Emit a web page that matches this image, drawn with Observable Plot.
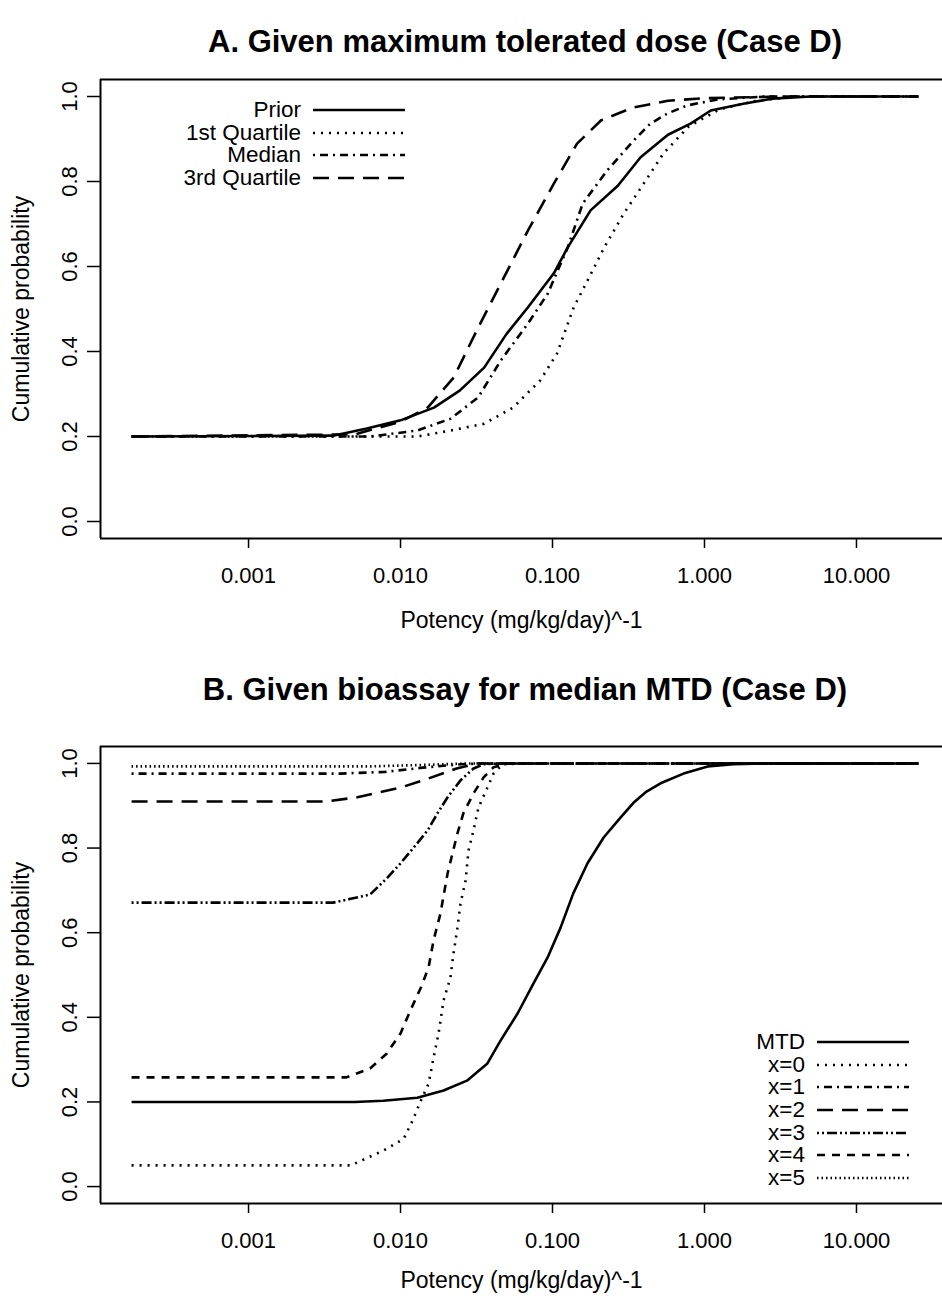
<!DOCTYPE html>
<html>
<head>
<meta charset="utf-8">
<script src="https://cdn.jsdelivr.net/npm/d3@7"></script>
<script src="https://cdn.jsdelivr.net/npm/@observablehq/plot@0.6"></script>
<style>
  body { margin: 0; background: #fff; overflow: hidden; font-family: "Liberation Sans", Arial, sans-serif; color: #000; }
  #page { position: relative; width: 942px; height: 1299px; background: #fff; }
  .title { position: absolute; left: 104px; width: 842px; text-align: center; font-weight: bold; font-size: 31px; line-height: 36px; }
  .panel { position: absolute; left: 0; }
  .legend { position: absolute; font-size: 22.5px; }
  .legend .row { display: flex; align-items: center; height: 22.6px; }
  .legend .lab { text-align: right; }
  .legend svg { display: block; }
</style>
</head>
<body>
<div id="page">
  <div class="title" id="titleA" style="top:24px">A. Given maximum tolerated dose (Case D)</div>
  <div class="panel" id="panelA" style="top:60px"></div>
  <div class="legend" id="legendA" style="left:120px; top:99px"></div>
  <div class="title" id="titleB" style="top:672px">B. Given bioassay for median MTD (Case D)</div>
  <div class="panel" id="panelB" style="top:728px"></div>
  <div class="legend" id="legendB" style="left:700px; top:1031px"></div>
</div>
<script>
// ---------- data ----------
const xTicks = [0.001, 0.01, 0.1, 1, 10];
const yTicks = [0, 0.2, 0.4, 0.6, 0.8, 1.0];
const xLabel = "Potency (mg/kg/day)^-1";
const yLabel = "Cumulative probability";

// Panel A
const aSeries = ["Prior", "1st Quartile", "Median", "3rd Quartile"];
const priorX = [0.00017, 0.0036, 0.006, 0.01, 0.0166, 0.0245, 0.0355, 0.05, 0.069, 0.102, 0.126, 0.178, 0.269, 0.38, 0.575, 0.81, 1.1, 1.8, 2.8, 5.0, 25.6];
const priorY = [0.2, 0.202, 0.219, 0.238, 0.268, 0.308, 0.362, 0.442, 0.504, 0.584, 0.645, 0.732, 0.79, 0.857, 0.91, 0.936, 0.967, 0.983, 0.995, 1.0, 1.0];
const q1X = [0.00017, 0.0129, 0.0214, 0.0355, 0.055, 0.083, 0.107, 0.138, 0.17, 0.219, 0.295, 0.398, 0.537, 0.79, 1.26, 2.2, 4.0, 25.6];
const q1Y = [0.2, 0.2, 0.214, 0.23, 0.268, 0.332, 0.395, 0.504, 0.567, 0.645, 0.725, 0.795, 0.866, 0.93, 0.97, 0.99, 1.0, 1.0];
const medX = [0.00017, 0.0063, 0.0129, 0.0214, 0.0324, 0.0457, 0.069, 0.093, 0.126, 0.158, 0.229, 0.339, 0.44, 0.57, 0.77, 1.22, 2.5, 25.6];
const medY = [0.2, 0.2, 0.214, 0.242, 0.292, 0.379, 0.466, 0.536, 0.645, 0.748, 0.826, 0.895, 0.936, 0.96, 0.979, 0.993, 1.0, 1.0];
const q3X = [0.00017, 0.005, 0.01, 0.0151, 0.0224, 0.0324, 0.0457, 0.069, 0.102, 0.145, 0.209, 0.339, 0.575, 1.0, 3.2, 25.6];
const q3Y = [0.2, 0.205, 0.235, 0.268, 0.339, 0.456, 0.56, 0.685, 0.795, 0.889, 0.944, 0.974, 0.99, 0.996, 1.0, 1.0];

// Panel B
const bSeries = ["MTD", "x=0", "x=1", "x=2", "x=3", "x=4", "x=5"];
const mtdX = [0.00017, 0.005, 0.0077, 0.0129, 0.0192, 0.0276, 0.0373, 0.0455, 0.0589, 0.075, 0.0927, 0.113, 0.137, 0.17, 0.217, 0.28, 0.341, 0.41, 0.514, 0.728, 1.05, 1.55, 2.5, 25.6];
const mtdY = [0.2, 0.2, 0.203, 0.21, 0.227, 0.251, 0.291, 0.345, 0.409, 0.48, 0.541, 0.612, 0.693, 0.764, 0.825, 0.872, 0.907, 0.932, 0.953, 0.976, 0.993, 0.998, 1.0, 1.0];
const x0X = [0.00017, 0.0047, 0.0077, 0.0105, 0.012, 0.0136, 0.0153, 0.0165, 0.0178, 0.0192, 0.0213, 0.0223, 0.0237, 0.0248, 0.0268, 0.028, 0.0302, 0.0326, 0.0373, 0.0409, 0.0469, 0.063, 25.6];
const x0Y = [0.05, 0.05, 0.085, 0.113, 0.156, 0.203, 0.243, 0.305, 0.362, 0.44, 0.494, 0.55, 0.612, 0.669, 0.723, 0.794, 0.842, 0.896, 0.943, 0.976, 0.998, 1.0, 1.0];
const x1X = [0.00017, 0.004, 0.0079, 0.014, 0.025, 0.035, 25.6];
const x1Y = [0.976, 0.976, 0.98, 0.99, 0.998, 1.0, 1.0];
const x2X = [0.00017, 0.0032, 0.0052, 0.01, 0.0141, 0.0234, 0.0316, 25.6];
const x2Y = [0.91, 0.91, 0.92, 0.943, 0.96, 0.988, 1.0, 1.0];
const x3X = [0.00017, 0.0036, 0.0047, 0.0063, 0.0081, 0.01, 0.0122, 0.0151, 0.0175, 0.0204, 0.0248, 0.0302, 0.0352, 0.045, 25.6];
const x3Y = [0.671, 0.671, 0.68, 0.69, 0.728, 0.764, 0.801, 0.842, 0.882, 0.92, 0.96, 0.988, 0.998, 1.0, 1.0];
const x4X = [0.00017, 0.0044, 0.0063, 0.0081, 0.01, 0.0116, 0.0136, 0.0153, 0.0165, 0.0183, 0.0204, 0.0237, 0.0259, 0.0302, 0.0352, 0.0409, 0.05, 25.6];
const x4Y = [0.258, 0.258, 0.279, 0.314, 0.362, 0.416, 0.47, 0.518, 0.582, 0.645, 0.74, 0.835, 0.882, 0.929, 0.967, 0.991, 1.0, 1.0];
const x5X = [0.00017, 0.0063, 0.0158, 0.028, 25.6];
const x5Y = [0.993, 0.993, 0.997, 1.0, 1.0];

// ---------- styles ----------
const dash = {
  solid: null,
  dotted: "2,6",
  dotdash: "2,5,8,5",
  longdash: "16,9",
  dotdotdash: "2,3,2,3,10,3",
  dashed: "8,7",
  densedot: "1.5,3"
};
const aStyles = ["solid", "dotted", "dotdash", "longdash"];
const bStyles = ["solid", "dotted", "dotdash", "longdash", "dotdotdash", "dashed", "densedot"];

function rows(name, xs, ys) { return xs.map((x, i) => ({series: name, x, y: ys[i]})); }

const aData = [[priorX, priorY], [q1X, q1Y], [medX, medY], [q3X, q3Y]]
  .map(([xs, ys], i) => rows(aSeries[i], xs, ys));
const bData = [[mtdX, mtdY], [x0X, x0Y], [x1X, x1Y], [x2X, x2Y], [x3X, x3Y], [x4X, x4Y], [x5X, x5Y]]
  .map(([xs, ys], i) => rows(bSeries[i], xs, ys));

const FONT = "'Liberation Sans', Arial, sans-serif";
const xDomain = [Math.pow(10, -3.974), Math.pow(10, 1.566)];
const yDomain = [-0.04, 1.04];

function panel(data, styles, height, marginTop, marginBottom, labelOffset) {
  const lines = data.map((d, i) => Plot.line(d, {
    x: "x", y: "y", stroke: "#000", strokeWidth: 2.6,
    strokeDasharray: dash[styles[i]] || undefined,
    strokeLinecap: "butt"
  }));
  return Plot.plot({
    width: 942, height, marginLeft: 100, marginRight: 0, marginTop, marginBottom,
    style: {fontFamily: FONT, fontSize: "22px", color: "#000", background: "#fff", overflow: "visible"},
    x: {type: "log", domain: xDomain},
    y: {domain: yDomain},
    marks: [
      Plot.axisX({ticks: xTicks, tickFormat: d3.format(".3f"), tickSize: 10, tickPadding: 19,
        strokeWidth: 1.5, label: null}),
      Plot.axisX({ticks: [], label: xLabel, labelAnchor: "center", labelArrow: false, labelOffset, fontSize: 23, dx: 6}),
      Plot.axisY({ticks: yTicks, tickFormat: () => "", tickSize: 13, tickPadding: 0, strokeWidth: 1.5,
        label: null}),
      Plot.axisY({ticks: [], label: yLabel, labelAnchor: "center", labelArrow: false, labelOffset: 88, fontSize: 23}),
      Plot.text(yTicks, {y: d => d, text: d3.format(".1f"), frameAnchor: "left", rotate: -90,
        dx: -24, textAnchor: "middle", lineAnchor: "bottom", fill: "#000", fontSize: 22}),
      Plot.ruleX([xDomain[0]], {stroke: "#000", strokeWidth: 2}),
      Plot.ruleY(yDomain, {stroke: "#000", strokeWidth: 2}),
      ...lines
    ]
  });
}

document.getElementById("panelA").append(panel(aData, aStyles, 590, 19, 112, 89));
document.getElementById("panelB").append(panel(bData, bStyles, 571, 18, 96, 84));

function legend(el, names, styles, labWidth) {
  const root = d3.select(el);
  names.forEach((n, i) => {
    const r = root.append("div").attr("class", "row");
    r.append("div").attr("class", "lab").style("width", labWidth + "px").text(n);
    const s = r.append("svg").attr("width", 104).attr("height", 22).style("margin-left", "12px");
    s.append("line").attr("x1", 0).attr("x2", 92).attr("y1", 11).attr("y2", 11)
      .attr("stroke", "#000").attr("stroke-width", 2.4)
      .attr("stroke-dasharray", dash[styles[i]] || null);
  });
}
legend(document.getElementById("legendA"), aSeries, aStyles, 181);
legend(document.getElementById("legendB"), bSeries, bStyles, 105);
</script>
</body>
</html>
